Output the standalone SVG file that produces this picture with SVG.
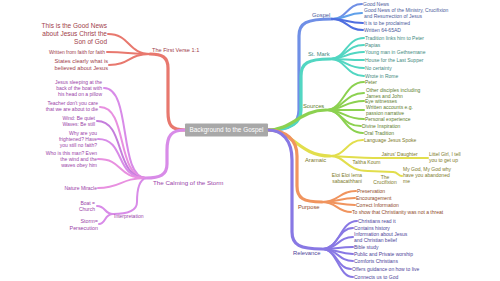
<svg xmlns="http://www.w3.org/2000/svg" width="500" height="281" viewBox="0 0 500 281">
<style>
text{font-family:"Liberation Sans",Arial,sans-serif;font-size:5px}
.c{fill:none;stroke-linecap:round}
.m{stroke-width:3.2}
.s{stroke-width:2}
.red{stroke:#e8786e}.tred{fill:#a0404a}
.vio{stroke:#d88be8}.pnk{stroke:#e890e0}.dvi{stroke:#c47ddc}.tvio{fill:#9a3fa8}
.blu{stroke:#6f8fe6}.blu2{stroke:#5fa0ea}.blu3{stroke:#4f6fe0}.tblu{fill:#4a5a9a}
.tea{stroke:#52d6c2}.ttea{fill:#3f8a80}
.grn{stroke:#8cd150}.tgrn{fill:#5e7d2e}
.yel{stroke:#e2de4c}.tyel{fill:#7d7a2a}
.org{stroke:#f0945e}.torg{fill:#8f4a2a}
.pur{stroke:#8878e4}.tpur{fill:#4c3f99}
.e{text-anchor:end}.mid{text-anchor:middle}
</style>
<rect width="500" height="281" fill="#ffffff"/>
<g id="connectors">
<!-- main branches -->
<path class="c m red" d="M185,130 C171,130 168,125 168,112 L168,68 C168,57 162,54 150,54"/>
<path class="c m vio" d="M185,130 C171,130 167,136 167,150 L167,164 C167,175 160,178 146,178"/>
<path class="c m blu" d="M268,130 C290,130 299,124 299,110 L299,36 C299,23 306,19 332,19"/>
<path class="c m tea" d="M268,130 C289,130 301,124 301,110 L301,76 C301,63 308,59 330,59"/>
<path class="c m grn" d="M268,130 C292,130 300,110 326,110"/>
<path class="c m yel" d="M268,130 C292,130 299,156 330,156"/>
<path class="c m org" d="M268,130 C286,130 297,140 297,156 L297,186 C297,198 303,202 322,202"/>
<path class="c m pur" d="M268,130 C282,130 292,140 292,160 L292,232 C292,245 300,249 322,249"/>
<!-- first verse children -->
<path class="c s red" d="M150,54 C128,54 130,34 108,34"/>
<path class="c s red" d="M150,54 C128,54 128,52 107,52"/>
<path class="c s red" d="M150,54 C128,54 130,65 109,65"/>
<!-- calming children -->
<path class="c s vio" d="M146,178 C118,178 132,88 104,88"/>
<path class="c s pnk" d="M146,178 C116,178 128,107 100,107"/>
<path class="c s dvi" d="M146,178 C114,178 126,121 97,121"/>
<path class="c s vio" d="M146,178 C114,178 126,139 98,139"/>
<path class="c s pnk" d="M146,178 C116,178 124,159 98,159"/>
<path class="c s pnk" d="M146,178 C120,178 122,188 98,188"/>
<path class="c s vio" d="M146,178 C138,180 137,194 137,202 C137,210 130,214 113,214"/>
<path class="c s vio" d="M113,214 C104,214 106,206 97,206"/>
<path class="c s vio" d="M113,214 C104,214 106,224 99,224"/>
<!-- gospel children -->
<path class="c s blu" d="M332,19 C347,19 347,4 362,4"/>
<path class="c s blu2" d="M332,19 C347,19 347,13 362,13"/>
<path class="c s blu3" d="M332,19 C347,19 347,23 363,23"/>
<path class="c s blu3" d="M332,19 C347,19 347,30 363,30"/>
<!-- st mark children -->
<path class="c s tea" d="M330,59 C346,59 346,38 364,38"/>
<path class="c s tea" d="M330,59 C346,59 346,45 364,45"/>
<path class="c s tea" d="M330,59 C346,59 346,52 364,52"/>
<path class="c s tea" d="M330,59 C346,59 346,60 364,60"/>
<path class="c s tea" d="M330,59 C346,59 346,68 364,68"/>
<path class="c s tea" d="M330,59 C346,59 346,76 364,76"/>
<!-- sources children -->
<path class="c s grn" d="M326,110 C344,110 344,82 364,82"/>
<path class="c s grn" d="M326,110 C344,110 344,93 364,93"/>
<path class="c s grn" d="M326,110 C344,110 344,101 364,101"/>
<path class="c s grn" d="M326,110 C344,110 344,110 364,110"/>
<path class="c s grn" d="M326,110 C344,110 344,119 364,119"/>
<path class="c s grn" d="M326,110 C342,110 342,126 361,126"/>
<path class="c s grn" d="M326,110 C344,110 344,133 363,133"/>
<!-- aramaic children -->
<path class="c s yel" d="M330,156 C346,156 346,140 363,140"/>
<path class="c s yel" d="M330,156 C350,157 360,158 382,158"/>
<path class="c s yel" d="M382,158 L417,158"/>
<path class="c s yel" d="M417,158 L428,158"/>
<path class="c s yel" d="M330,156 C346,156 346,171 368,171"/>
<path class="c s yel" d="M368,171 L393,172"/>
<path class="c s yel" d="M393,172 C398,172 398,176 402,176"/>
<!-- purpose children -->
<path class="c s org" d="M322,202 C339,202 339,191 356,191"/>
<path class="c s org" d="M322,202 C339,202 339,198 355,198"/>
<path class="c s org" d="M322,202 C339,202 339,205 355,205"/>
<path class="c s org" d="M322,202 C337,202 337,212 351,212"/>
<!-- relevance children -->
<path class="c s pur" d="M322,249 C340,249 340,221 357,221"/>
<path class="c s pur" d="M322,249 C338,249 338,228 353,228"/>
<path class="c s pur" d="M322,249 C338,249 338,237 353,237"/>
<path class="c s pur" d="M322,249 C338,249 338,247 353,247"/>
<path class="c s pur" d="M322,249 C338,249 338,254 353,254"/>
<path class="c s pur" d="M322,249 C338,249 338,261 353,261"/>
<path class="c s pur" d="M322,249 C337,249 337,269 351,269"/>
<path class="c s pur" d="M322,249 C338,249 338,277 353,277"/>
</g>

<g id="center">
<rect x="185" y="123.5" width="83" height="13" rx="1" fill="#a8a8a8"/>
<text x="226.5" y="132.3" class="mid" style="font-size:6.4px" fill="#ffffff">Background to the Gospel</text>
</g>

<g id="first-verse"><text x="152" y="52" class="tred" style="font-size:5.6px">The First Verse 1:1</text></g>
<g id="good-news"><text class="e tred" style="font-size:6.5px"><tspan x="107" y="28.3">This is the Good News</tspan><tspan x="107" y="36.3">about Jesus Christ the</tspan><tspan x="107" y="44.3">Son of God</tspan></text></g>
<g id="faith"><text x="105" y="53.8" class="e tred">Written from faith for faith</text></g>
<g id="states"><text class="e tred" style="font-size:5.7px"><tspan x="108" y="63">States clearly what is</tspan><tspan x="108" y="70">believed about Jesus</tspan></text></g>

<g id="calming"><text x="153" y="185.2" class="tvio" style="font-size:6.2px">The Calming of the Storm</text></g>
<g id="sleeping"><text class="e tvio"><tspan x="102" y="83.8">Jesus sleeping at the</tspan><tspan x="102" y="89.8">back of the boat with</tspan><tspan x="102" y="95.8">his head on a pillow</tspan></text></g>
<g id="teacher"><text class="e tvio"><tspan x="98" y="104.8">Teacher don't you care</tspan><tspan x="98" y="110.8">that we are about to die</tspan></text></g>
<g id="wind"><text class="e tvio"><tspan x="95" y="119.8">Wind: Be quiet</tspan><tspan x="95" y="125.8">Waves: Be still</tspan></text></g>
<g id="why"><text class="e tvio"><tspan x="97" y="134.8">Why are you</tspan><tspan x="97" y="140.8">frightened? Have</tspan><tspan x="97" y="146.8">you still no faith?</tspan></text></g>
<g id="who"><text class="e tvio"><tspan x="97" y="154.8">Who is this man? Even</tspan><tspan x="97" y="160.8">the wind and the</tspan><tspan x="97" y="166.8">waves obey him</tspan></text></g>
<g id="nature"><text x="97" y="189.8" class="e tvio">Nature Miracle</text></g>
<g id="interpretation"><text x="114" y="217.8" class="tvio">Interpretation</text></g>
<g id="boat"><text class="e tvio"><tspan x="95" y="204.8">Boat =</tspan><tspan x="95" y="210.8">Church</tspan></text></g>
<g id="storm"><text class="e tvio" style="font-size:5.4px"><tspan x="98" y="222.9">Storm=</tspan><tspan x="98" y="229.9">Persecution</tspan></text></g>

<g id="gospel"><text x="312" y="17.2" class="tblu" style="font-size:5.8px">Gospel</text></g>
<g id="g1"><text x="363" y="5.8" class="tblu">Good News</text></g>
<g id="g2"><text class="tblu"><tspan x="364" y="11.8">Good News of the Ministry, Crucifixion</tspan><tspan x="364" y="17.8">and Resurrection of Jesus</tspan></text></g>
<g id="g3"><text x="364" y="24.8" class="tblu">It is to be proclaimed</text></g>
<g id="g4"><text x="364" y="31.8" class="tblu">Written 64-65AD</text></g>

<g id="stmark"><text x="308" y="56" class="ttea" style="font-size:5.8px">St. Mark</text></g>
<g id="m1"><text x="365" y="39.8" class="ttea">Tradition links him to Peter</text></g>
<g id="m2"><text x="365" y="46.8" class="ttea">Papias</text></g>
<g id="m3"><text x="365" y="53.8" class="ttea">Young man in Gethsemane</text></g>
<g id="m4"><text x="365" y="61.8" class="ttea">House for the Last Supper</text></g>
<g id="m5"><text x="365" y="69.8" class="ttea">No certainty</text></g>
<g id="m6"><text x="365" y="77.8" class="ttea">Wrote in Rome</text></g>

<g id="sources"><text x="303" y="108" class="tgrn" style="font-size:5.8px">Sources</text></g>
<g id="s1"><text x="365" y="83.8" class="tgrn">Peter</text></g>
<g id="s2"><text class="tgrn"><tspan x="366" y="91.8">Other disciples including</tspan><tspan x="366" y="97.8">James and John</tspan></text></g>
<g id="s3"><text x="365" y="102.8" class="tgrn">Eye witnesses</text></g>
<g id="s4"><text class="tgrn"><tspan x="366" y="108.8">Written accounts e.g.</tspan><tspan x="366" y="114.8">passion narrative</tspan></text></g>
<g id="s5"><text x="365" y="120.8" class="tgrn">Personal experience</text></g>
<g id="s6"><text x="362" y="127.8" class="tgrn">Divine Inspiration</text></g>
<g id="s7"><text x="364" y="134.8" class="tgrn">Oral Tradition</text></g>

<g id="aramaic"><text x="305" y="162" class="tyel" style="font-size:5.8px">Aramaic</text></g>
<g id="a1"><text x="364" y="141.8" class="tyel">Language Jesus Spoke</text></g>
<g id="a2"><text x="366.5" y="163.5" class="mid tyel">Taltha Koum</text></g>
<g id="a3"><text x="399.5" y="155.8" class="mid tyel">Jairus' Daughter</text></g>
<g id="a4"><text class="tyel"><tspan x="429" y="155.8">Littel Girl, I tell</tspan><tspan x="429" y="161.8">you to get up</tspan></text></g>
<g id="a5"><text class="mid tyel"><tspan x="347" y="176.8">Eloi Eloi lema</tspan><tspan x="347" y="182.8">sabacathhani</tspan></text></g>
<g id="a6"><text class="mid tyel"><tspan x="385" y="178.8">The</tspan><tspan x="385" y="184.3">Crucifixion</tspan></text></g>
<g id="a7"><text class="tyel"><tspan x="403" y="170.8">My God, My God why</tspan><tspan x="403" y="176.8">have you abandoned</tspan><tspan x="403" y="182.8">me</tspan></text></g>

<g id="purpose"><text x="298" y="209" class="torg" style="font-size:5.8px">Purpose</text></g>
<g id="p1"><text x="357" y="192.8" class="torg">Preservation</text></g>
<g id="p2"><text x="356" y="199.8" class="torg">Encouragement</text></g>
<g id="p3"><text x="356" y="206.8" class="torg">Correct Information</text></g>
<g id="p4"><text x="352" y="213.8" class="torg">To show that Christianity was not a threat</text></g>

<g id="relevance"><text x="293" y="255" class="tpur" style="font-size:5.8px">Relevance</text></g>
<g id="r1"><text x="358" y="222.8" class="tpur">Christians read it</text></g>
<g id="r2"><text x="354" y="229.8" class="tpur">Contains history</text></g>
<g id="r3"><text class="tpur"><tspan x="354" y="235.8">Information about Jesus</tspan><tspan x="354" y="241.8">and Christian belief</tspan></text></g>
<g id="r4"><text x="354" y="248.8" class="tpur">Bible study</text></g>
<g id="r5"><text x="354" y="255.8" class="tpur">Public and Private worship</text></g>
<g id="r6"><text x="354" y="262.8" class="tpur">Comforts Christians</text></g>
<g id="r7"><text x="352" y="270.8" class="tpur">Offers guidance on how to live</text></g>
<g id="r8"><text x="354" y="278.8" class="tpur">Connects us to God</text></g>
</svg>
